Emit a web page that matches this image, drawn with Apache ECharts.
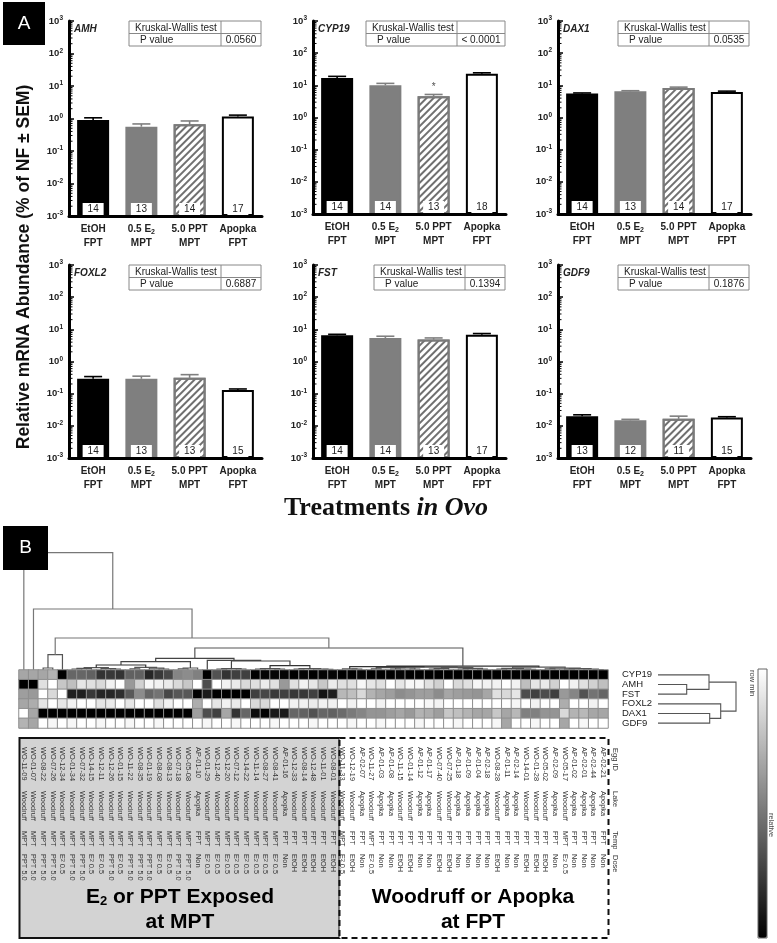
<!DOCTYPE html>
<html><head><meta charset="utf-8">
<style>html,body{margin:0;padding:0;background:#fff}#c{width:777px;height:943px}</style>
<script src="https://cdn.jsdelivr.net/npm/echarts@6/dist/echarts.min.js"></script>
</head><body><div id="c"></div>
<script>
const FONT='"Liberation Sans"';
// Panel A
const treatments=['EtOH\nFPT','0.5 E2\nMPT','5.0 PPT\nMPT','Apopka\nFPT'];
const genes=['AMH','CYP19','DAX1','FOXL2','FST','GDF9'];
const pValues=['0.0560','< 0.0001','0.0535','0.6887','0.1394','0.1876'];
const axisFloor=0.001;
const amhMean=[0.9,0.56,0.66,1.15],   amhUpper=[1.05,0.68,0.84,1.27],  amhN=[14,13,14,17];
const cyp19Mean=[17,10,4.6,23],       cyp19Upper=[19,11.5,5.2,24.5],   cyp19N=[14,14,13,18];
const dax1Mean=[5.6,6.5,8.2,6.2],     dax1Upper=[5.8,6.8,8.8,6.6],     dax1N=[14,13,14,17];
const foxl2Mean=[0.29,0.29,0.31,0.13],foxl2Upper=[0.34,0.35,0.39,0.14],foxl2N=[14,13,13,15];
const fstMean=[6.6,5.4,4.8,6.8],      fstUpper=[7,6.1,5.4,7.4],        fstN=[14,14,13,17];
const gdf9Mean=[0.02,0.0148,0.0165,0.018],gdf9Upper=[0.022,0.0159,0.02,0.0192],gdf9N=[13,12,11,15];
const cyp19Star=[[2,9]];
const minorTickValues=[0.002,0.003,0.004,0.005,0.006,0.007,0.008,0.009,0.02,0.03,0.04,0.05,0.06,0.07,0.08,0.09,0.2,0.3,0.4,0.5,0.6,0.7,0.8,0.9,2,3,4,5,6,7,8,9,20,30,40,50,60,70,80,90,200,300,400,500,600,700,800,900];
// Panel B heat map (darkness, 0 white .. 100 black)
const rowNames=['CYP19','AMH','FST','FOXL2','DAX1','GDF9'];
const cyp19Row=[35,35,35,30,100,60,60,62,80,78, 80,62,62,85,78,72,48,45,50,100, 68,80,75,75,100,98,98,98,100,98, 100,98,98,100,100,98,100,100,100,98, 100,100,100,100,100,100,100,100,100,100, 100,100,100,100,100,100,100,100,100,100, 100];
const amhRow=[100,100,12,0,22,25,10,12,15,5, 0,40,18,3,5,8,15,22,0,70, 0,5,8,15,12,8,12,40,12,5, 10,22,8,12,12,3,10,12,0,10, 3,3,12,18,0,15,12,3,5,5, 0,5,25,10,8,18,0,5,12,18, 25];
const fstRow=[38,40,0,15,0,88,88,78,85,85, 82,65,45,60,55,72,66,66,100,90, 100,100,100,100,75,72,78,75,78,78, 75,92,88,28,25,15,30,35,38,45, 42,38,38,45,35,38,40,42,35,12, 15,10,70,75,70,75,40,48,68,55, 60];
const foxl2Row=[35,32,10,0,10,5,0,0,10,8, 0,10,0,0,12,5,0,0,32,0, 10,5,8,0,15,15,0,0,5,5, 8,5,5,0,5,0,0,5,0,0, 0,0,3,5,0,0,0,0,0,0, 0,3,0,5,0,0,32,0,0,5, 0];
const dax1Row=[0,35,100,100,100,100,100,100,100,100, 100,100,100,100,100,100,100,100,38,70, 75,35,80,60,95,100,90,90,60,62, 68,60,62,58,52,48,42,42,38,35, 40,30,32,38,22,25,30,35,35,22, 35,28,50,50,42,42,15,30,28,35, 35];
const gdf9Row=[30,35,0,3,0,3,0,0,3,0, 0,3,0,0,3,0,0,0,0,3, 0,0,3,0,0,0,3,0,0,0, 3,0,0,0,3,0,0,3,0,0, 0,3,0,0,0,3,0,0,0,3, 35,0,0,3,0,0,35,0,3,0, 0];
const eggIds=['WO-11-09','WO-01-07','WO-08-22','WO-07-26','WO-12-34','WO-01-34','WO-07-32','WO-14-15','WO-12-11','WO-12-26','WO-01-15','WO-11-22','WO-08-35','WO-01-19','WO-08-08','WO-08-13','WO-07-18','WO-05-08','AP-01-10','WO-01-29','WO-12-40','WO-12-20','WO-07-12','WO-14-22','WO-11-14','WO-08-27','WO-08-41','AP-01-16','WO-12-33','WO-08-14','WO-12-48','WO-11-01','WO-08-01','WO-11-33','WO-12-19','AP-02-07','WO-11-27','AP-01-03','AP-01-08','WO-11-15','WO-01-14','AP-01-12','AP-01-17','WO-07-40','WO-07-25','AP-01-18','AP-01-09','AP-01-04','AP-02-18','WO-08-28','AP-01-11','AP-02-14','WO-14-01','WO-01-28','WO-05-02','AP-02-09','WO-05-17','AP-01-02','AP-02-01','AP-02-44','AP-02-21'];
const P='PPT 5.0',E='E2 0.5',H='EtOH',N='Non';
const doses=[P,P,P,P,E,P,P,E,E,P, E,P,P,P,E,E,P,P,N,E, E,E,E,E,E,E,E,N,H,H, H,H,H,E,H,N,E,N,N,H, H,N,N,H,H,N,N,N,N,H, N,N,H,H,H,N,E,N,N,N, N];
const lakes=eggIds.map(id=>id.startsWith('AP')?'Apopka':'Woodruff');
const temps=doses.map(d=>(d===H||d===N)?'FPT':'MPT');
// Dendrograms: [height, left, right], a bare number is a leaf
const colTree=[117.3,0,[61,1,[32,[15.3,[2,2,3],4],[22,
  [11.7,[8.3,[5,[2.3,[1.6,[1,5,6],7],[1.5,8,[1,9,10]]],[2.6,[1.2,11,12],[1.8,13,[1,14,15]]]],[2,[1.2,16,17],18]],
        [9.7,19,[9,[1.5,[.8,20,21],[1,22,23]],[4.3,[1.5,[1,24,25],[1,26,27]],[1.5,[1,28,29],[1,30,[.6,31,32]]]]]]],
  [3.8,[3.3,[1.2,33,[.8,34,35]],[2.8,[2.3,[1.2,36,37],[2,[1,38,39],[1,40,41]]],[2.4,[1.5,[.8,42,43],44],[1.6,[1,45,46],[.8,47,48]]]]],
       [2.8,[1.6,[.9,49,50],[.9,51,[.6,52,53]]],[1.8,[1.2,54,55],[1.4,[.8,56,57],[1,58,[.5,59,60]]]]]]]]]];
const rowTree=[78,[51,0,[28.7,1,2]],[62.7,3,[51.7,4,5]]];

function flatten(t,out){
  if(typeof t==='number')return {p:t,h:0};
  const a=flatten(t[1],out),b=flatten(t[2],out);
  out.push([a.p,b.p,a.h,b.h,t[0]]);
  return {p:(a.p+b.p)/2,h:t[0]};
}
const colLinks=[],rowLinks=[];flatten(colTree,colLinks);flatten(rowTree,rowLinks);

const chartDefs=[
 {m:amhMean,u:amhUpper,n:amhN,left:69,top:21,bottom:216,tl:129,tr:261,tm:221,ty:21},
 {m:cyp19Mean,u:cyp19Upper,n:cyp19N,left:313,top:21,bottom:214,tl:366,tr:505,tm:457,ty:21},
 {m:dax1Mean,u:dax1Upper,n:dax1N,left:558,top:21,bottom:214,tl:618,tr:749,tm:709,ty:21},
 {m:foxl2Mean,u:foxl2Upper,n:foxl2N,left:69,top:265,bottom:458,tl:129,tr:261,tm:221,ty:265},
 {m:fstMean,u:fstUpper,n:fstN,left:313,top:265,bottom:458,tl:374,tr:505,tm:465,ty:265},
 {m:gdf9Mean,u:gdf9Upper,n:gdf9N,left:558,top:265,bottom:458,tl:618,tr:749,tm:709,ty:265}
];
const barStyles=[
 {color:'#000',borderColor:'#000',borderWidth:2},
 {color:'#7f7f7f',borderColor:'#7f7f7f',borderWidth:2},
 {color:'#fff',borderColor:'#7a7a7a',borderWidth:2,decal:{symbol:'rect',symbolSize:1,dashArrayX:[1,0],dashArrayY:[2,3],rotation:-Math.PI/4,color:'#707070'}},
 {color:'#fff',borderColor:'#000',borderWidth:2}
];
const errColors=['#000','#7f7f7f','#7f7f7f','#000'];

const grids=[],xAxes=[],yAxes=[],series=[],titles=[],graphics=[];
const lab=(t,x,y,o={})=>({type:'text',x,y,z:5,rotation:o.rot||0,style:{text:t,font:`${o.w||'normal'} ${o.s||10}px ${FONT}`,fill:o.c||'#222',align:o.a||'left',verticalAlign:'middle',rich:o.rich}});
const seg=(x1,y1,x2,y2,c='#888')=>({type:'line',z:4,shape:{x1,y1,x2,y2},style:{stroke:c,lineWidth:1}});
const rb={fontFamily:FONT,fontWeight:'bold',fontSize:10,color:'#222'};
chartDefs.forEach((d,i)=>{
  grids.push({left:d.left,top:d.top,width:193,height:d.bottom-d.top});
  xAxes.push({type:'category',gridIndex:i,data:treatments,z:8,
    axisLine:{lineStyle:{color:'#000',width:3}},axisTick:{show:false},
    axisLabel:{margin:6,interval:0,lineHeight:14,formatter:v=>v.split('\n').map(s=>s.endsWith('E2')?`{b|${s.slice(0,-1)}}{s|2}`:`{b|${s}}`).join('\n'),
      rich:{b:{...rb,lineHeight:14},s:{...rb,fontSize:7,verticalAlign:'bottom',lineHeight:8,padding:[5,0,0,0]}}}});
  yAxes.push({type:'log',logBase:10,gridIndex:i,min:axisFloor,max:1000,
    axisLine:{show:true,lineStyle:{color:'#000',width:3}},
    axisTick:{show:true,inside:true,length:5,lineStyle:{color:'#000',width:1.5}},
    minorTick:{show:false},splitLine:{show:false},minorSplitLine:{show:false},
    axisLabel:{margin:6,formatter:v=>`{b|10}{s|${Math.round(Math.log10(v))}}`,
      rich:{b:{...rb,fontSize:9.5},s:{...rb,fontSize:6.5,verticalAlign:'top',padding:[0,0,5,0]}}}});
  // An invisible stacked floor makes the bars rise from the bottom of the log axis
  series.push({type:'bar',xAxisIndex:i,yAxisIndex:i,stack:'s'+i,barWidth:32,silent:true,
    data:d.m.map(()=>axisFloor),itemStyle:{color:'transparent',borderWidth:0}});
  series.push({type:'bar',xAxisIndex:i,yAxisIndex:i,stack:'s'+i,barWidth:32,silent:true,
    data:d.m.map((v,k)=>({value:v-axisFloor,n:d.n[k],itemStyle:barStyles[k]})),
    label:{show:true,position:'insideBottom',distance:0,formatter:p=>String(p.data.n),fontFamily:FONT,fontSize:10,color:'#222',backgroundColor:'#fff',width:21,height:13,lineHeight:13,align:'center'}});
  series.push({type:'custom',xAxisIndex:i,yAxisIndex:i,silent:true,z:1,clip:false,
    data:d.m.map((v,k)=>[k,v,d.u[k]]),
    renderItem:(p,api)=>{const k=api.value(0),a=api.coord([k,api.value(1)]),b=api.coord([k,api.value(2)]);
      const st={stroke:errColors[k],lineWidth:1.6,fill:null};
      return {type:'group',children:[
        {type:'line',shape:{x1:a[0],y1:a[1],x2:b[0],y2:b[1]},style:st},
        {type:'line',shape:{x1:b[0]-9,y1:b[1],x2:b[0]+9,y2:b[1]},style:st}]};}});
  // log minor ticks
  series.push({type:'custom',xAxisIndex:i,yAxisIndex:i,silent:true,z:3,clip:false,
    data:minorTickValues.map(v=>[0,v]),
    renderItem:(p,api)=>{const y=api.coord([0,api.value(1)])[1],x=p.coordSys.x;
      return {type:'line',shape:{x1:x,y1:y,x2:x+3.5,y2:y},style:{stroke:'#000',lineWidth:1}};}});
  titles.push({text:genes[i],left:d.left+5,top:d.ty+3,padding:0,textStyle:{fontStyle:'italic',fontWeight:'bold',fontSize:10,fontFamily:FONT,color:'#222'}});
  // Kruskal-Wallis table
  graphics.push({type:'rect',z:4,shape:{x:d.tl,y:d.ty,width:d.tr-d.tl,height:25},style:{fill:'#fff',stroke:'#888',lineWidth:1}},
    seg(d.tm,d.ty,d.tm,d.ty+25),seg(d.tl,d.ty+12.5,d.tr,d.ty+12.5),
    lab('Kruskal-Wallis test',d.tl+6,d.ty+6.8),lab('P value',d.tl+11,d.ty+19.3),
    lab(pValues[i],(d.tm+d.tr)/2,d.ty+19.3,{a:'center'}));
});
// significance star
series.push({type:'scatter',xAxisIndex:1,yAxisIndex:1,symbolSize:0,silent:true,data:cyp19Star,
  label:{show:true,position:'inside',formatter:'*',fontFamily:FONT,fontSize:10,color:'#222'}});

// Heat map grid
const H_I=chartDefs.length;
grids.push({left:19,top:670,width:589,height:58});
const annot=(data,off)=>({type:'category',gridIndex:H_I,position:'bottom',offset:off,data,
  axisLine:{show:false},axisTick:{show:false},
  axisLabel:{interval:0,rotate:-90,margin:0,fontFamily:FONT,fontSize:7.4,color:'#333',hideOverlap:false,
    formatter:v=>v==='E2 0.5'?'E{s|2} 0.5':v,rich:{s:{fontSize:5,fontFamily:FONT,color:'#333'}}}});
xAxes.push(annot(eggIds,19));
xAxes.push(annot(lakes,63));
xAxes.push(annot(temps,103));
xAxes.push(annot(doses,126));
yAxes.push({type:'category',gridIndex:H_I,data:rowNames,inverse:true,position:'right',
  axisLine:{show:false},axisTick:{show:false},axisLabel:{margin:14,fontFamily:FONT,fontSize:9.5,color:'#222',interval:0}});
const rows=[cyp19Row,amhRow,fstRow,foxl2Row,dax1Row,gdf9Row];
const heat=[];rows.forEach((r,y)=>r.forEach((v,x)=>heat.push([x,y,v])));
const heatSeriesIndex=series.length;
series.push({type:'heatmap',xAxisIndex:H_I,yAxisIndex:H_I,silent:true,data:heat,itemStyle:{borderColor:'#8e8e8e',borderWidth:1}});

// Column dendrogram
const linkColor=h=>h>30?'#777':h>15?'#555':h>6?'#444':h>3?'#333':'#555';
const CD=grids.length;
grids.push({left:19,top:552.7,width:589,height:117.3});
xAxes.push({type:'value',gridIndex:CD,min:-0.5,max:60.5,show:false});
yAxes.push({type:'value',gridIndex:CD,min:0,max:117.3,show:false});
series.push({type:'custom',xAxisIndex:CD+3,yAxisIndex:CD,silent:true,clip:false,z:1,data:colLinks,
  renderItem:(p,api)=>{const v=i=>api.value(i);
    return {type:'polyline',shape:{points:[api.coord([v(0),v(2)]),api.coord([v(0),v(4)]),api.coord([v(1),v(4)]),api.coord([v(1),v(3)])]},
      style:{fill:null,stroke:linkColor(v(4)),lineWidth:1.2}};}});
// Row dendrogram
const RD=grids.length;
grids.push({left:658,top:670,width:82,height:58});
xAxes.push({type:'value',gridIndex:RD,min:0,max:82,show:false});
yAxes.push({type:'value',gridIndex:RD,min:-0.5,max:5.5,inverse:true,show:false});
series.push({type:'custom',xAxisIndex:RD+3,yAxisIndex:RD,silent:true,clip:false,data:rowLinks,
  renderItem:(p,api)=>{const v=i=>api.value(i);
    return {type:'polyline',shape:{points:[api.coord([v(2),v(0)]),api.coord([v(4),v(0)]),api.coord([v(4),v(1)]),api.coord([v(3),v(1)])]},
      style:{fill:null,stroke:'#555',lineWidth:1.1}};}});

const tag=(x,y,w,h,t)=>[{type:'rect',z:6,shape:{x,y,width:w,height:h},style:{fill:'#000'}},
  {type:'text',z:7,x:x+w/2,y:y+h/2,style:{text:t,font:`19px ${FONT}`,fill:'#fff',align:'center',verticalAlign:'middle'}}];
graphics.push(
  ...tag(3,2,42,43,'A'),...tag(3,526,45,44,'B'),
  lab('Relative mRNA Abundance (% of NF \u00b1 SEM)',24,267,{rot:Math.PI/2,s:17.5,w:'bold',a:'center',c:'#111'}),
  {type:'text',z:5,x:386,y:508,style:{text:'{a|Treatments }{b|in Ovo}',align:'center',verticalAlign:'middle',
    rich:{a:{fontFamily:'"Liberation Serif"',fontWeight:'bold',fontSize:26,fill:'#111'},b:{fontFamily:'"Liberation Serif"',fontWeight:'bold',fontStyle:'italic',fontSize:26,fill:'#111'}}}},
  {type:'rect',z:-1,shape:{x:19.5,y:738,width:320,height:200},style:{fill:'#d3d3d3',stroke:'#111',lineWidth:2}},
  {type:'rect',z:-1,shape:{x:339.5,y:738,width:269,height:200},style:{fill:'#fff',stroke:'#111',lineWidth:2,lineDash:[6,4]}},
  {type:'text',z:5,x:180,y:897,style:{text:'{a|E}{s|2}{a| or PPT Exposed}',align:'center',verticalAlign:'middle',
    rich:{a:{fontFamily:FONT,fontWeight:'bold',fontSize:21,fill:'#000'},s:{fontFamily:FONT,fontWeight:'bold',fontSize:13,fill:'#000',verticalAlign:'bottom',padding:[9,0,0,0]}}}},
  lab('at MPT',180,922,{s:21,w:'bold',a:'center',c:'#000'}),
  lab('Woodruff or Apopka',473,897,{s:21,w:'bold',a:'center',c:'#000'}),
  lab('at FPT',473,922,{s:21,w:'bold',a:'center',c:'#000'}),
  lab('Egg ID',615,748,{rot:-Math.PI/2,s:7.5,c:'#333'}),
  lab('Lake',615,791,{rot:-Math.PI/2,s:7.5,c:'#333'}),
  lab('Temp',615,831,{rot:-Math.PI/2,s:7.5,c:'#333'}),
  lab('Dose',615,855,{rot:-Math.PI/2,s:7.5,c:'#333'}),
  lab('row min',752,670,{rot:-Math.PI/2,s:7.5,c:'#444'}),
  lab('relative',771,813,{rot:-Math.PI/2,s:7.5,c:'#444'}),
  {type:'rect',z:8,shape:{x:758,y:669,width:9,height:269},style:{fill:null,stroke:'#666',lineWidth:1}}
);

const chart=echarts.init(document.getElementById('c'),null,{renderer:'canvas'});
chart.setOption({animation:false,backgroundColor:'#fff',textStyle:{fontFamily:FONT},
  title:titles,grid:grids,xAxis:xAxes,yAxis:yAxes,series,graphic:{elements:graphics},
  visualMap:{type:'continuous',seriesIndex:heatSeriesIndex,min:0,max:100,inRange:{color:['#ffffff','#000000']},
    orient:'vertical',inverse:true,left:758,top:669,itemWidth:9,itemHeight:269,calculable:false,text:['',''],showLabel:false,show:true,padding:0}
});
</script></body></html>
